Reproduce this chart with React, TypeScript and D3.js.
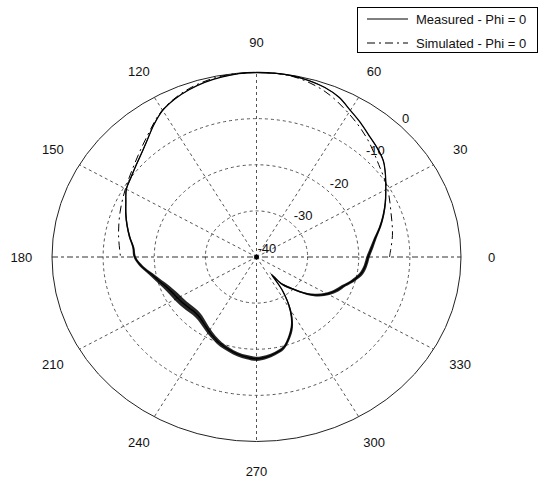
import React from "react";
import * as d3 from "d3";

// radiation pattern, dB, angle in degrees (0 = right, counter-clockwise)
const measuredAngles = [
  0, 5, 10, 15, 20, 25, 30, 35, 40, 45, 50, 55, 60, 65, 70, 75, 80, 85, 90, 95,
  100, 105, 110, 115, 120, 125, 130, 135, 140, 145, 150, 155, 160, 165, 170,
  175, 180, 185, 190, 195, 200, 205, 210, 215, 220, 225, 230, 235, 240, 245,
  250, 255, 260, 265, 270, 275, 280, 285, 290, 295, 300, 305, 308, 310, 315,
  320, 325, 330, 335, 340, 345, 350, 355, 360,
];
const measuredDb = [
  -18.2, -17.4, -16.4, -15, -13.6, -12.2, -10.8, -9.2, -7.6, -6.6,
  -5.7, -4.5, -3.3, -1.8, -0.9, -0.4, -0.1, 0, 0, -0.1,
  -0.4, -0.8, -1.4, -2.2, -3.3, -5, -6.8, -8.2, -9.2, -10,
  -10.6, -11.8, -12.8, -13.8, -14.8, -15.8, -16.2, -17.4, -19, -20.2,
  -21.2, -21.8, -22.2, -22.5, -22.8, -23, -22.8, -22.2, -21.4, -20.6,
  -19.8, -19.2, -18.6, -18.2, -17.9, -18.2, -18.8, -19.6, -21.4, -23.6,
  -26.8, -31.2, -35.2,
  -32.4, -30.4, -27.8, -25.6, -24, -22.8, -21.8, -20.4, -19.2, -18.6, -18.2,
];
// half width of the measurement noise, dB
const measuredNoise = [
  0.35, 0.35, 0.3, 0.25, 0.2, 0.15, 0.1, 0.08, 0.08, 0.08,
  0.05, 0.05, 0.05, 0.05, 0.05, 0.05, 0.05, 0.05, 0.05, 0.05,
  0.05, 0.05, 0.05, 0.05, 0.05, 0.08, 0.08, 0.1, 0.1, 0.1,
  0.1, 0.12, 0.15, 0.15, 0.18, 0.2, 0.25, 0.35, 0.45, 0.55,
  0.65, 0.7, 0.75, 0.75, 0.75, 0.7, 0.65, 0.6, 0.55, 0.5,
  0.5, 0.45, 0.45, 0.45, 0.45, 0.4, 0.35, 0.35, 0.4, 0.45,
  0.5, 0.6, 0.6,
  0.6, 0.55, 0.5, 0.5, 0.45, 0.45, 0.4, 0.4, 0.4, 0.35, 0.35,
];

const simulatedAngles = [
  0, 10, 20, 30, 40, 50, 60, 70, 80, 90, 100, 110, 120, 130, 140, 150, 160,
  170, 180,
];
const simulatedDb = [
  -14, -13, -12, -10.4, -8.8, -6.4, -4, -1.6, -0.2, 0, -0.2, -1.2, -3.2, -6.4,
  -8.8, -10.4, -11.6, -12.6, -13.4,
];

const ringTicks = [-40, -30, -20, -10, 0];
const spokeAngles = [0, 30, 60, 90, 120, 150, 180, 210, 240, 270, 300, 330];
const legendLabels = ["Measured - Phi = 0", "Simulated - Phi = 0"];

const width = 539;
const height = 481;
const cx = 256.5;
const cy = 257;
const rx = 204.5;
const ry = 184.5;
const font = "'Liberation Sans', Arial, sans-serif";

export default function App() {
  const ref = React.useRef<SVGSVGElement>(null);

  React.useEffect(() => {
    const svg = d3.select(ref.current);
    svg.selectAll("*").remove();

    const r = d3.scaleLinear().domain([-40, 0]).range([0, 1]);
    const x = d3.scaleLinear().domain([-1, 1]).range([cx - rx, cx + rx]);
    const y = d3.scaleLinear().domain([-1, 1]).range([cy + ry, cy - ry]);
    const rad = (a) => (a * Math.PI) / 180;
    const px = (a, db) => x(Math.max(0, r(db)) * Math.cos(rad(a)));
    const py = (a, db) => y(Math.max(0, r(db)) * Math.sin(rad(a)));

    const grid = svg.append("g");

    // rings
    grid
      .selectAll(".ring")
      .data(ringTicks.slice(1, -1))
      .join("ellipse")
      .attr("cx", cx)
      .attr("cy", cy)
      .attr("rx", (d) => r(d) * rx)
      .attr("ry", (d) => r(d) * ry)
      .attr("fill", "none")
      .attr("stroke", "#555")
      .attr("stroke-dasharray", "3,3");

    // spokes
    grid
      .selectAll(".spoke")
      .data(spokeAngles.filter((a) => a % 180 !== 0))
      .join("line")
      .attr("x1", cx)
      .attr("y1", cy)
      .attr("x2", (a) => px(a, 0))
      .attr("y2", (a) => py(a, 0))
      .attr("stroke", "#555")
      .attr("stroke-dasharray", "3,3");

    grid
      .append("line")
      .attr("x1", px(180, 0))
      .attr("y1", py(180, 0))
      .attr("x2", px(0, 0))
      .attr("y2", py(0, 0))
      .attr("stroke", "#333")
      .attr("stroke-dasharray", "6,3,3,3");

    grid
      .append("ellipse")
      .attr("cx", cx)
      .attr("cy", cy)
      .attr("rx", rx)
      .attr("ry", ry)
      .attr("fill", "none")
      .attr("stroke", "#222");

    // angle labels
    svg
      .append("g")
      .selectAll("text")
      .data(spokeAngles)
      .join("text")
      .attr("x", (a) => cx + 1.15 * rx * Math.cos(rad(a)))
      .attr("y", (a) => cy - 1.16 * ry * Math.sin(rad(a)))
      .attr("text-anchor", "middle")
      .attr("dominant-baseline", "central")
      .attr("font-family", font)
      .attr("font-size", 13)
      .attr("fill", "#111")
      .text((a) => a);

    // ring labels along 45 deg
    svg
      .append("g")
      .selectAll("text")
      .data(ringTicks)
      .join("text")
      .attr("x", (d) => px(45, d) + 1)
      .attr("y", (d) => py(45, d) - 4)
      .attr("font-family", font)
      .attr("font-size", 13)
      .attr("fill", "#111")
      .text((d) => d);

    // measured
    const meas = measuredAngles.map((a, i) => ({
      a,
      db: measuredDb[i],
      n: measuredNoise[i],
    }));

    const band = d3
      .area()
      .x0((d) => px(d.a, d.db - d.n))
      .y0((d) => py(d.a, d.db - d.n))
      .x1((d) => px(d.a, d.db + d.n))
      .y1((d) => py(d.a, d.db + d.n))
      .curve(d3.curveCatmullRom);

    svg
      .append("path")
      .datum(meas)
      .attr("d", band)
      .attr("fill", "#000")
      .attr("fill-opacity", 0.85);

    const line = d3
      .line()
      .x((d) => px(d.a, d.db))
      .y((d) => py(d.a, d.db))
      .curve(d3.curveCatmullRom);

    svg
      .append("path")
      .datum(meas)
      .attr("d", line)
      .attr("fill", "none")
      .attr("stroke", "#000")
      .attr("stroke-width", 1.3);

    // simulated
    const sim = simulatedAngles.map((a, i) => ({ a, db: simulatedDb[i] }));
    svg
      .append("path")
      .datum(sim)
      .attr("d", line)
      .attr("fill", "none")
      .attr("stroke", "#000")
      .attr("stroke-dasharray", "8,4,2,4");

    svg
      .append("circle")
      .attr("cx", cx)
      .attr("cy", cy)
      .attr("r", 2.5)
      .attr("fill", "#000");

    // legend
    const legend = svg.append("g");
    legend
      .append("rect")
      .attr("x", 357.5)
      .attr("y", 7.5)
      .attr("width", 180)
      .attr("height", 45)
      .attr("fill", "#fff")
      .attr("stroke", "#000");

    const rows = legend
      .selectAll(".row")
      .data(legendLabels)
      .join("g")
      .attr("transform", (d, i) => `translate(0,${19 + i * 24})`);

    rows
      .append("line")
      .attr("x1", 367)
      .attr("x2", 408)
      .attr("stroke", "#000")
      .attr("stroke-dasharray", (d, i) => (i ? "8,4,2,4" : null));

    rows
      .append("text")
      .attr("x", 416)
      .attr("y", 5)
      .attr("font-family", font)
      .attr("font-size", 13)
      .attr("fill", "#111")
      .text((d) => d);
  }, []);

  return (
    <svg
      ref={ref}
      width={width}
      height={height}
      style={{ position: "absolute", left: 0, top: 0, background: "#fff" }}
    />
  );
}
